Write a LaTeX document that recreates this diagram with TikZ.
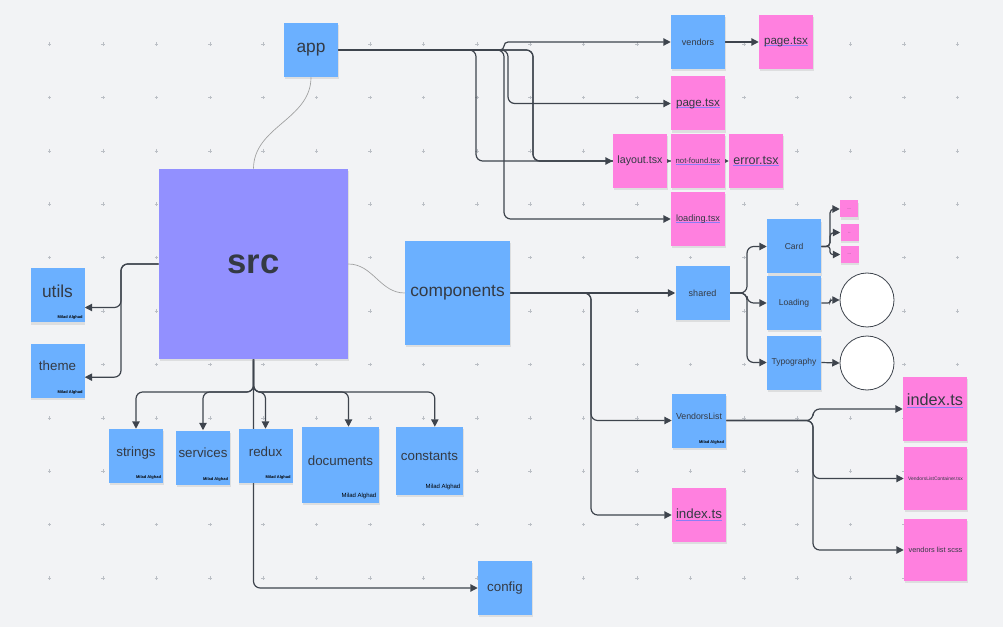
\documentclass[tikz,border=0pt]{standalone}
\usepackage{fontspec}
\setmainfont{Liberation Sans}
\usetikzlibrary{arrows.meta, backgrounds, shadows}

\definecolor{board}{HTML}{F2F3F5}
\definecolor{gridc}{HTML}{BBBFC5}
\definecolor{noteblue}{HTML}{6BB0FF}
\definecolor{notepink}{HTML}{FF80DF}
\definecolor{notesrc}{HTML}{9290FF}
\definecolor{ink}{HTML}{343A44}
\definecolor{wirec}{HTML}{3E444D}
\definecolor{ulc}{HTML}{8C7CF5}

\newcommand{\fsz}[1]{\fontsize{#1}{#1}\selectfont}
\newcommand{\linkul}[1]{\setbox0\hbox{#1}\rlap{\textcolor{ulc}{\rule[-0.25ex]{\wd0}{0.6pt}}}\box0}

\begin{document}
\begin{tikzpicture}[
    x=0.75pt, y=-0.75pt,
    >={Triangle[length=5.5pt,width=5.5pt]},
    note/.style={rectangle, minimum width=40.5pt, minimum height=40.5pt, inner sep=0pt, text=ink, align=center,
        drop shadow={shadow xshift=0.6pt, shadow yshift=-1.8pt, opacity=0.18}},
    bluenote/.style={note, fill=noteblue},
    pinknote/.style={note, fill=notepink},
    tagged/.style={text depth=7pt},
    author/.style={anchor=south east, inner sep=0pt, font=\fsz{3pt}\bfseries, text=black},
    wire/.style={draw=wirec, line width=0.9pt, rounded corners=5pt, ->},
    soft/.style={draw=gray!75, line width=0.5pt}
]
\useasboundingbox (0,0) rectangle (1003,627);

% -------------------------
% Board
% -------------------------
\begin{scope}[on background layer]
    \fill[board] (0,0) rectangle (1003,627);
    \foreach \gx in {0,...,18}
        \foreach \gy in {0,...,11}
            \draw[gridc, line width=0.3pt] ({49.6+\gx*53.4-1.8},{44+\gy*53.4}) -- ++(3.6,0)
                ({49.6+\gx*53.4},{44+\gy*53.4-1.8}) -- ++(0,3.6);
\end{scope}

% -------------------------
% Root and first level
% -------------------------
\node[note, fill=notesrc, minimum width=141.75pt, minimum height=142.5pt, font=\fsz{26pt}\bfseries] (src) at (253.5,264) {src};
\node[bluenote, font=\fsz{13pt}] (app) at (311,50) {app};
\node[bluenote, minimum width=78.75pt, minimum height=78pt, font=\fsz{13pt}] (components) at (457.5,293) {components};

\node[bluenote, tagged, font=\fsz{13pt}] (utils) at (57.5,295.5) {utils};
\node[bluenote, tagged, font=\fsz{10pt}] (theme) at (57.5,370.5) {theme};

\node[bluenote, tagged, font=\fsz{10pt}] (strings) at (136,456) {strings};
\node[bluenote, tagged, font=\fsz{10pt}] (services) at (203,457.5) {services};
\node[bluenote, tagged, font=\fsz{10pt}] (redux) at (265.5,456) {redux};
\node[bluenote, tagged, minimum width=57.75pt, minimum height=57pt, font=\fsz{10pt}] (documents) at (340.5,465) {documents};
\node[bluenote, tagged, minimum width=50.25pt, minimum height=51pt, font=\fsz{10pt}] (constants) at (429.5,461) {constants};
\node[bluenote, font=\fsz{10pt}] (config) at (505,588) {config};

% -------------------------
% app folder
% -------------------------
\node[bluenote, font=\fsz{6.75pt}] (vendors) at (698,42) {vendors};
\node[pinknote, font=\fsz{8.7pt}] (pageA) at (786,42) {\linkul{page.tsx}};
\node[pinknote, font=\fsz{8.7pt}] (pageB) at (698,103.5) {\linkul{page.tsx}};
\node[pinknote, font=\fsz{8pt}] (layout) at (640,161) {layout.tsx};
\node[pinknote, font=\fsz{5.8pt}] (notfound) at (698,161) {\linkul{not-found.tsx}};
\node[pinknote, font=\fsz{9.4pt}] (error) at (756,161) {\linkul{error.tsx}};
\node[pinknote, font=\fsz{6.9pt}] (loading) at (698,219) {\linkul{loading.tsx}};

% -------------------------
% components folder
% -------------------------
\node[bluenote, font=\fsz{6.75pt}] (shared) at (702.5,293) {shared};
\node[bluenote, tagged, font=\fsz{6.6pt}] (vlist) at (699,420.5) {VendorsList};
\node[pinknote, font=\fsz{10pt}] (indexA) at (699,515) {\linkul{index.ts}};

\node[bluenote, font=\fsz{6.4pt}] (card) at (794,246.5) {Card};
\node[bluenote, font=\fsz{6.4pt}] (loadingc) at (794,303) {Loading};
\node[bluenote, font=\fsz{6.4pt}] (typo) at (794,362.5) {Typography};

\node[pinknote, minimum width=13.5pt, minimum height=12.75pt, font=\fsz{2.5pt}] (dotA) at (849,209) {....};
\node[pinknote, minimum width=13.5pt, minimum height=12.75pt, font=\fsz{2.5pt}] (dotB) at (849.5,232.5) {-.};
\node[pinknote, minimum width=13.5pt, minimum height=12.75pt, font=\fsz{2.5pt}] (dotC) at (849.5,254.5) {....};

\node[circle, draw=wirec, line width=0.6pt, fill=white, minimum size=40.5pt] (circA) at (867,300) {};
\node[circle, draw=wirec, line width=0.6pt, fill=white, minimum size=40.5pt] (circB) at (867,363) {};

\node[pinknote, minimum width=48pt, minimum height=48pt, text depth=14pt, font=\fsz{12.2pt}] (indexB) at (935,409) {\linkul{index.ts}};
\node[pinknote, minimum width=47.25pt, minimum height=47.25pt, font=\fsz{3.7pt}] (container) at (935.5,478.5) {VendorsListContainer.tsx};
\node[pinknote, minimum width=47.25pt, minimum height=46.5pt, font=\fsz{5.5pt}] (scss) at (935.5,550) {vendors list scss};

% -------------------------
% Author tags
% -------------------------
\foreach \n in {utils,theme,strings,services,redux,vlist}
    \node[author] (\n-by) at ([xshift=-1.5pt,yshift=2.5pt]\n.south east) {Milad Alghad};
\node[author, font=\fsz{4.5pt}] (documents-by) at ([xshift=-2pt,yshift=3.5pt]documents.south east) {Milad Alghad};
\node[author, font=\fsz{4.5pt}] (constants-by) at ([xshift=-2pt,yshift=4pt]constants.south east) {Milad Alghad};

% -------------------------
% Connectors
% -------------------------
\begin{scope}[on background layer]
    % src links
    \draw[soft] (app.south) to[out=-90,in=90] (src.north);
    \draw[soft] (src.east) to[out=0,in=180] (components.west);

    \coordinate (lS) at (121,264);
    \coordinate (utilsIn) at ([yshift=-9pt]utils.east);
    \coordinate (themeIn) at ([yshift=-5pt]theme.east);
    \draw[wire] (src.west) -- (lS) -- (lS |- utilsIn) -- (utilsIn);
    \draw[wire] (src.west) -- (lS) -- (lS |- themeIn) -- (themeIn);

    \coordinate (bS) at (253.5,392);
    \coordinate (docIn) at ([xshift=6pt]documents.north);
    \coordinate (conIn) at ([xshift=4pt]constants.north);
    \draw[wire] (src.south) -- (bS) -| (strings.north);
    \draw[wire] (src.south) -- (bS) -| (services.north);
    \draw[wire] (src.south) -- (bS) -| (redux.north);
    \draw[wire] (src.south) -- (bS) -| (docIn);
    \draw[wire] (src.south) -- (bS) -| (conIn);
    \draw[wire] (src.south) |- (config.west);

    % app links
    \coordinate (aL) at (476,50);
    \coordinate (aM) at (504,50);
    \coordinate (aP) at (508,50);
    \coordinate (aR) at (533,50);
    \draw[wire, rounded corners=3pt] (app.east) -- (aM) -- (aM |- vendors.west) -- (vendors.west);
    \draw[wire] (app.east) -- (aP) -- (aP |- pageB.west) -- (pageB.west);
    \draw[wire] (app.east) -- (aL) -- (aL |- layout.west) -- (layout.west);
    \draw[wire] (app.east) -- (aR) -- (aR |- notfound.west) -- (notfound.west);
    \draw[wire] (app.east) -- (aR) -- (aR |- error.west) -- (error.west);
    \draw[wire] (app.east) -- (aM) -- (aM |- loading.west) -- (loading.west);
    \draw[wire] (vendors.east) -- (pageA.west);

    % components links
    \coordinate (cS) at (591,293);
    \draw[wire] (components.east) -- (shared.west);
    \draw[wire] (components.east) -- (cS) -- (cS |- vlist.west) -- (vlist.west);
    \draw[wire] (components.east) -- (cS) -- (cS |- indexA.west) -- (indexA.west);

    \coordinate (sS) at (747,293);
    \draw[wire] (shared.east) -- (sS) -- (sS |- card.west) -- (card.west);
    \draw[wire] (shared.east) -- (sS) -- (sS |- loadingc.west) -- (loadingc.west);
    \draw[wire] (shared.east) -- (sS) -- (sS |- typo.west) -- (typo.west);

    \coordinate (kS) at (830,246.5);
    \draw[wire, rounded corners=3pt] (card.east) -- (kS) -- (kS |- dotA.west) -- (dotA.west);
    \draw[wire, rounded corners=3pt] (card.east) -- (kS) -- (kS |- dotB.west) -- (dotB.west);
    \draw[wire, rounded corners=2pt] (card.east) -- (kS) -- (kS |- dotC.west) -- (dotC.west);

    \coordinate (lC) at (830,303);
    \draw[wire, rounded corners=1.5pt] (loadingc.east) -- (lC) -- (lC |- circA.west) -- (circA.west);
    \draw[wire] (typo.east) -- (circB.west);

    \coordinate (vS) at (813,420.5);
    \draw[wire] (vlist.east) -- (vS) -- (vS |- indexB.west) -- (indexB.west);
    \draw[wire] (vlist.east) -- (vS) -- (vS |- container.west) -- (container.west);
    \draw[wire] (vlist.east) -- (vS) -- (vS |- scss.west) -- (scss.west);
\end{scope}

\end{tikzpicture}
\end{document}
